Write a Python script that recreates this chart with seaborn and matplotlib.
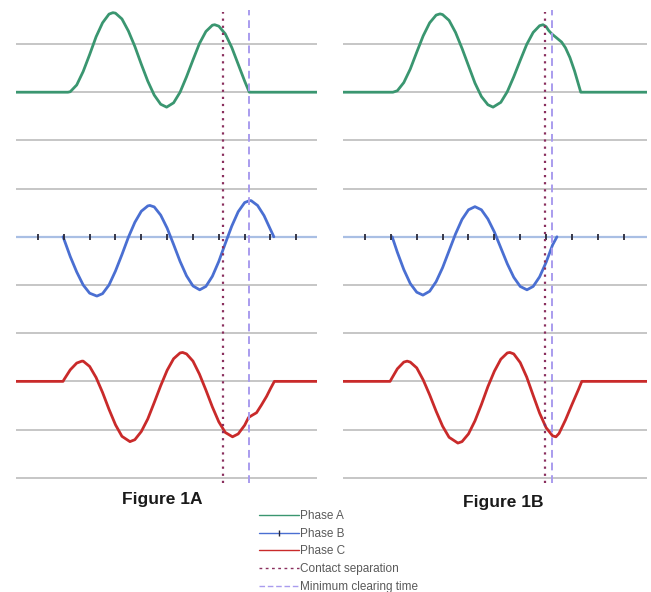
import matplotlib
matplotlib.use("Agg")
import matplotlib.pyplot as plt
from matplotlib.lines import Line2D
import seaborn as sns

# ---- waveform samples (time in quarter-cycles, current in grid units) ----
phase_a_1a_t = [0.15, 2.16, 2.25, 2.5, 2.75, 3.0, 3.25, 3.5, 3.75, 3.9, 4.0, 4.25, 4.5, 4.75, 5.0,
                5.25, 5.5, 5.75, 5.98, 6.25, 6.5, 6.75, 7.0, 7.25, 7.5, 7.75, 7.84, 8.0, 8.25, 8.5,
                8.75, 9.0, 9.18, 11.8]
phase_a_1a = [0, 0, 0.01, 0.15, 0.43, 0.78, 1.15, 1.44, 1.62, 1.65, 1.64, 1.52, 1.27, 0.95, 0.58,
              0.23, -0.06, -0.25, -0.31, -0.22, 0.0, 0.32, 0.67, 1.01, 1.26, 1.39, 1.40, 1.37, 1.21, 0.93,
              0.58, 0.23, 0.0, 0]

phase_b_1a_t = [1.97, 2.0, 2.25, 2.5, 2.75, 3.0, 3.28, 3.5, 3.75, 4.0, 4.25, 4.5, 4.75, 5.0, 5.25,
                5.33, 5.5, 5.75, 6.0, 6.25, 6.5, 6.75, 7.0, 7.26, 7.5, 7.75, 8.0, 8.25, 8.5, 8.75,
                9.0, 9.19, 9.25, 9.5, 9.75, 10.0, 10.13]
phase_b_1a = [0, -0.04, -0.41, -0.73, -1.00, -1.17, -1.23, -1.18, -1.00, -0.71, -0.37, -0.01, 0.30, 0.53, 0.64,
              0.65, 0.62, 0.45, 0.18, -0.16, -0.51, -0.81, -1.02, -1.10, -1.03, -0.82, -0.51, -0.14, 0.22, 0.52,
              0.71, 0.75, 0.75, 0.65, 0.44, 0.15, 0.0]

phase_c_1a_t = [0.15, 1.97, 2.0, 2.25, 2.5, 2.7, 2.75, 3.0, 3.25, 3.5, 3.75, 4.0, 4.25, 4.56, 4.75,
                5.0, 5.25, 5.5, 5.75, 6.0, 6.25, 6.5, 6.6, 6.75, 7.0, 7.25, 7.5, 7.75, 8.0, 8.25,
                8.53, 8.75, 9.0, 9.15, 9.3, 9.46, 9.65, 9.85, 10.0, 10.15, 11.8]
phase_c_1a = [0, 0, 0.03, 0.24, 0.38, 0.42, 0.42, 0.31, 0.08, -0.23, -0.58, -0.90, -1.14, -1.25, -1.21,
              -1.04, -0.78, -0.44, -0.09, 0.23, 0.47, 0.59, 0.60, 0.57, 0.42, 0.15, -0.18, -0.53, -0.84, -1.06,
              -1.15, -1.09, -0.91, -0.75, -0.70, -0.65, -0.49, -0.31, -0.15, 0, 0]

phase_a_1b_t = [0.15, 2.08, 2.25, 2.5, 2.75, 3.0, 3.25, 3.5, 3.75, 3.9, 4.0, 4.25, 4.5, 4.75, 5.0,
                5.25, 5.5, 5.75, 5.95, 6.25, 6.5, 6.75, 7.0, 7.25, 7.5, 7.75, 7.88, 8.0, 8.1, 8.22,
                8.4, 8.6, 8.75, 8.92, 9.1, 9.22, 9.34, 11.9]
phase_a_1b = [0, 0, 0.03, 0.20, 0.48, 0.83, 1.17, 1.44, 1.60, 1.625, 1.61, 1.49, 1.24, 0.91, 0.55,
              0.19, -0.09, -0.26, -0.31, -0.21, 0.01, 0.32, 0.66, 0.99, 1.24, 1.38, 1.40, 1.36, 1.28, 1.21,
              1.13, 1.04, 0.92, 0.72, 0.44, 0.22, 0.0, 0]

phase_b_1b_t = [2.05, 2.25, 2.5, 2.75, 3.0, 3.24, 3.5, 3.75, 4.0, 4.25, 4.5, 4.75, 5.0, 5.25, 5.5,
                5.75, 6.0, 6.25, 6.5, 6.75, 7.0, 7.26, 7.5, 7.75, 8.0, 8.25, 8.42]
phase_b_1b = [0, -0.32, -0.68, -0.97, -1.15, -1.21, -1.13, -0.93, -0.64, -0.29, 0.06, 0.36, 0.56, 0.625, 0.56,
              0.37, 0.10, -0.23, -0.56, -0.84, -1.03, -1.10, -1.03, -0.83, -0.53, -0.17, 0.0]

phase_c_1b_t = [0.15, 1.97, 2.0, 2.25, 2.5, 2.63, 2.75, 3.0, 3.25, 3.5, 3.75, 4.0, 4.25, 4.59, 4.75,
                5.0, 5.25, 5.5, 5.75, 6.0, 6.25, 6.5, 6.6, 6.75, 7.0, 7.25, 7.5, 7.75, 8.0, 8.25,
                8.38, 8.5, 8.75, 9.0, 9.25, 9.38, 11.9]
phase_c_1b = [0, 0, 0.03, 0.26, 0.40, 0.42, 0.40, 0.28, 0.03, -0.28, -0.62, -0.93, -1.16, -1.28, -1.25,
              -1.09, -0.82, -0.48, -0.11, 0.21, 0.46, 0.59, 0.60, 0.57, 0.39, 0.09, -0.29, -0.66, -0.96, -1.13,
              -1.15, -1.08, -0.80, -0.48, -0.17, 0, 0]

# event times (quarter-cycles) for 1A and 1B
contact_separation = [8.15, 7.95]
minimum_clearing = [9.15, 8.22]

panel_titles = ["Figure 1A", "Figure 1B"]
legend_labels = ["Phase A", "Phase B", "Phase C", "Contact separation", "Minimum clearing time"]
tick_times = list(range(1, 12))

# ---- styling ----
GREEN = "#3a9670"
BLUE = "#4a6fd2"
RED = "#c92a2a"
GRID = "#c6c6c6"
SEP = "#8a2f5e"
CLEAR = "#a99cee"
OFFSETS = {"A": -1, "B": -4, "C": -7}

sns.set_theme(style="white")
plt.rcParams["font.family"] = ["Liberation Sans", "DejaVu Sans"]

fig = plt.figure(figsize=(6.51, 5.92), dpi=100)
axes = [fig.add_axes([16 / 651, 1 - 485 / 592, 301 / 651, 485 / 592]),
        fig.add_axes([343 / 651, 1 - 485 / 592, 304 / 651, 485 / 592])]
xlims = [(0.15, 11.8), (0.15, 11.9)]

panels = [
    (phase_a_1a_t, phase_a_1a, phase_b_1a_t, phase_b_1a, phase_c_1a_t, phase_c_1a),
    (phase_a_1b_t, phase_a_1b, phase_b_1b_t, phase_b_1b, phase_c_1b_t, phase_c_1b),
]

for i, ax in enumerate(axes):
    at, a, bt, b, ct, c = panels[i]
    ax.set_xlim(*xlims[i])
    ax.set_ylim(-9.15, 0.913)
    ax.set_axis_off()

    # horizontal rules
    for k in range(10):
        if k == 4:
            continue
        ax.axhline(-k, color=GRID, lw=1.4, zorder=1)
    ax.axhline(OFFSETS["B"], color="#a9bfe4", lw=1.6, zorder=1)

    sns.lineplot(x=at, y=[v + OFFSETS["A"] for v in a], ax=ax, color=GREEN, lw=2.0,
                 sort=False, estimator=None, zorder=3)
    sns.lineplot(x=bt, y=[v + OFFSETS["B"] for v in b], ax=ax, color=BLUE, lw=2.0,
                 sort=False, estimator=None, zorder=3)
    sns.lineplot(x=ct, y=[v + OFFSETS["C"] for v in c], ax=ax, color=RED, lw=2.0,
                 sort=False, estimator=None, zorder=3)

    # quarter-cycle ticks on the phase B axis
    ax.plot(tick_times, [OFFSETS["B"]] * len(tick_times), ls="none", marker="|",
            ms=5, mew=1.3, color="#2a2a3a", zorder=4)

    ax.vlines(contact_separation[i], -9.1, 0.66, colors=SEP, lw=1.6,
              linestyles=[(0, (1, 2.2))], zorder=5)
    ax.vlines(minimum_clearing[i], -9.1, 0.7, colors=CLEAR, lw=1.4,
              linestyles=[(0, (4, 2.5))], zorder=5)

fig.text(162.5 / 651, 1 - 504 / 592, panel_titles[0], ha="center", va="baseline",
         fontsize=12.5, fontweight="bold", color="#1a1a1a")
fig.text(503 / 651, 1 - 507 / 592, panel_titles[1], ha="center", va="baseline",
         fontsize=12.5, fontweight="bold", color="#1a1a1a")

handles = [
    Line2D([], [], color=GREEN, lw=1.0),
    Line2D([], [], color=BLUE, lw=1.0, marker="|", ms=4, mec="#2a2a3a", markevery=[1]),
    Line2D([], [], color=RED, lw=1.0),
    Line2D([], [], color=SEP, lw=1.0, ls=(0, (2, 2.5))),
    Line2D([], [], color=CLEAR, lw=1.0, ls=(0, (4, 2))),
]
fig.legend(handles, legend_labels, loc="upper left",
           bbox_to_anchor=(259 / 651, 1 - 510 / 592), frameon=False,
           fontsize=8.5, labelcolor="#5a5a5a", handlelength=3.4,
           handletextpad=0.1, labelspacing=0.48, borderpad=0, borderaxespad=0)

fig.savefig("out.png", dpi=100)
